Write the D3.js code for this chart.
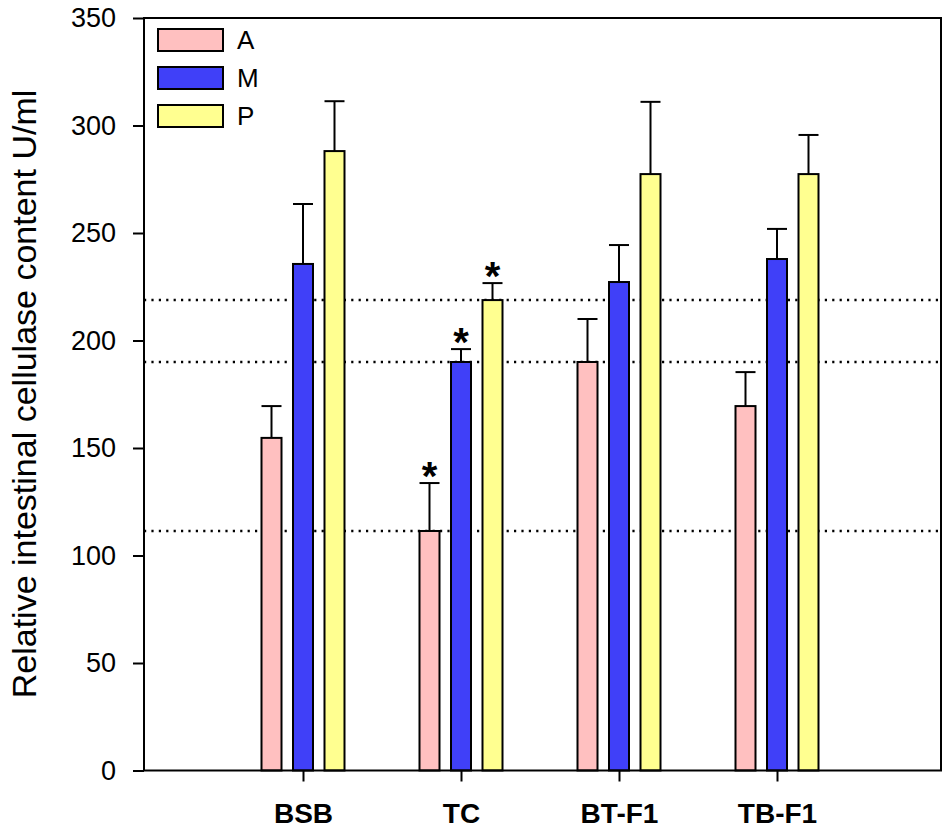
<!DOCTYPE html>
<html>
<head>
<meta charset="utf-8">
<script src="https://cdn.jsdelivr.net/npm/d3@7"></script>
<style>
  body { margin: 0; background: #fff; }
  svg text { font-family: "Liberation Sans", Arial, sans-serif; }
</style>
</head>
<body>
<div id="chart-area"></div>
<script>
// data
var groups = ["BSB", "TC", "BT-F1", "TB-F1"];
var series = ["A", "M", "P"];
var colors = ["#ffc0c0", "#4040f8", "#ffff90"];

var meanA = [154.7, 111.4, 190.0, 169.5];
var meanM = [235.6, 190.0, 227.2, 237.9];
var meanP = [288.1, 218.8, 277.4, 277.4];

var errA = [14.8, 22.3, 20.0, 15.8];
var errM = [27.9, 6.0, 17.2, 14.0];
var errP = [23.2, 7.9, 33.6, 18.2];

// significance marks (true = asterisk)
var sigA = [false, true, false, false];
var sigM = [false, true, false, false];
var sigP = [false, true, false, false];

// reference dotted lines
var refLines = [111.4, 190.0, 218.8];

var yTicks = [0, 50, 100, 150, 200, 250, 300, 350];

var means = [meanA, meanM, meanP];
var errs = [errA, errM, errP];
var sigs = [sigA, sigM, sigP];

var width = 950, height = 833;
var plot = { left: 144, right: 941, top: 18, bottom: 770.5 };
var barWidth = 20;
var barStep = 31.5;

var svg = d3.select("#chart-area")
  .append("svg")
  .attr("width", width)
  .attr("height", height);

var y = d3.scaleLinear()
  .domain([0, 350])
  .range([plot.bottom, plot.top]);

var x = d3.scalePoint()
  .domain(groups)
  .range([303, 777]);

// flatten into one list of bars
var bars = [];
series.forEach(function(s, si) {
  groups.forEach(function(g, gi) {
    bars.push({
      series: s,
      si: si,
      group: g,
      value: means[si][gi],
      err: errs[si][gi],
      sig: sigs[si][gi]
    });
  });
});

function barX(d) {
  return x(d.group) + (d.si - 1) * barStep;
}

// dotted reference lines
svg.selectAll(".ref")
  .data(refLines)
  .enter()
  .append("line")
  .attr("class", "ref")
  .attr("x1", plot.left)
  .attr("x2", plot.right)
  .attr("y1", function(d) { return y(d); })
  .attr("y2", function(d) { return y(d); })
  .attr("stroke", "#000")
  .attr("stroke-width", 2.5)
  .attr("stroke-dasharray", "2.2,5.2");

// error bars (upper only)
var eb = svg.selectAll(".err")
  .data(bars)
  .enter()
  .append("g")
  .attr("class", "err");

eb.append("line")
  .attr("x1", barX)
  .attr("x2", barX)
  .attr("y1", function(d) { return y(d.value); })
  .attr("y2", function(d) { return y(d.value + d.err); })
  .attr("stroke", "#000")
  .attr("stroke-width", 2);

eb.append("line")
  .attr("x1", function(d) { return barX(d) - barWidth / 2; })
  .attr("x2", function(d) { return barX(d) + barWidth / 2; })
  .attr("y1", function(d) { return y(d.value + d.err); })
  .attr("y2", function(d) { return y(d.value + d.err); })
  .attr("stroke", "#000")
  .attr("stroke-width", 2);

// bars
svg.selectAll(".bar")
  .data(bars)
  .enter()
  .append("rect")
  .attr("class", "bar")
  .attr("x", function(d) { return barX(d) - barWidth / 2; })
  .attr("width", barWidth)
  .attr("y", function(d) { return y(d.value); })
  .attr("height", function(d) { return y(0) - y(d.value); })
  .attr("fill", function(d) { return colors[d.si]; })
  .attr("stroke", "#000")
  .attr("stroke-width", 2);

// asterisks
svg.selectAll(".star")
  .data(bars.filter(function(d) { return d.sig; }))
  .enter()
  .append("text")
  .attr("class", "star")
  .attr("x", barX)
  .attr("y", function(d) { return y(d.value + d.err) + 7; })
  .attr("text-anchor", "middle")
  .attr("font-size", 40)
  .attr("font-weight", "bold")
  .text("*");

// frame
svg.append("rect")
  .attr("x", plot.left)
  .attr("y", plot.top)
  .attr("width", plot.right - plot.left)
  .attr("height", plot.bottom - plot.top)
  .attr("fill", "none")
  .attr("stroke", "#000")
  .attr("stroke-width", 2);

// y axis
var yAxis = d3.axisLeft(y)
  .tickValues(yTicks)
  .tickSize(11)
  .tickPadding(17);

var gy = svg.append("g")
  .attr("transform", "translate(" + plot.left + ",0)")
  .call(yAxis);
gy.select(".domain").remove();
gy.selectAll(".tick line").attr("stroke-width", 2);
gy.selectAll(".tick text")
  .attr("font-size", 27)
  .attr("font-family", "Liberation Sans, Arial, sans-serif")
  .attr("fill", "#000");

// x axis
var xAxis = d3.axisBottom(x)
  .tickSize(11)
  .tickPadding(22);

var gx = svg.append("g")
  .attr("transform", "translate(0," + plot.bottom + ")")
  .call(xAxis);
gx.select(".domain").remove();
gx.selectAll(".tick line").attr("stroke-width", 2);
gx.selectAll(".tick text")
  .attr("font-size", 28)
  .attr("font-weight", "bold")
  .attr("font-family", "Liberation Sans, Arial, sans-serif")
  .attr("fill", "#000");

// y label
svg.append("text")
  .attr("transform", "translate(36," + 394 + ") rotate(-90)")
  .attr("text-anchor", "middle")
  .attr("font-size", 34)
  .text("Relative intestinal cellulase content U/ml");

// legend
var legend = svg.selectAll(".legend")
  .data(series)
  .enter()
  .append("g")
  .attr("class", "legend")
  .attr("transform", function(d, i) { return "translate(158," + (29 + i * 38) + ")"; });

legend.append("rect")
  .attr("width", 65)
  .attr("height", 22)
  .attr("fill", function(d, i) { return colors[i]; })
  .attr("stroke", "#000")
  .attr("stroke-width", 2);

legend.append("text")
  .attr("x", 79)
  .attr("y", 20)
  .attr("font-size", 26)
  .text(function(d) { return d; });
</script>
</body>
</html>
